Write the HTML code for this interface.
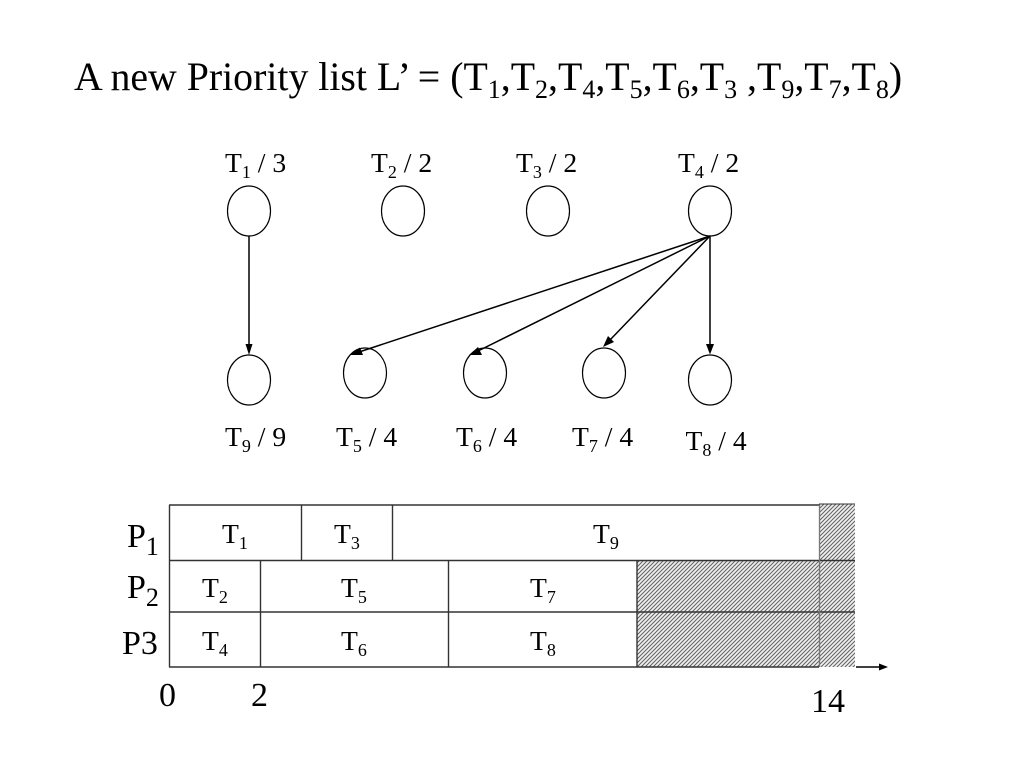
<!DOCTYPE html>
<html><head><meta charset="utf-8"><style>
html,body{margin:0;padding:0;background:#fff;width:1024px;height:768px;overflow:hidden}
svg{display:block}
text{font-family:"Liberation Serif",serif;fill:#000}
.n{font-size:27.6px}.s{font-size:18px}
.c{fill:#fff;stroke:#000;stroke-width:1.2}
.l{stroke:#000;stroke-width:1.5;fill:none}
.g{stroke:#333;stroke-width:1.4;fill:none}
.t{font-size:39.8px}.u{font-size:26px}
.b{font-size:34px}
</style></head><body>
<svg width="1024" height="768" viewBox="0 0 1024 768" xmlns="http://www.w3.org/2000/svg">
<defs>
<pattern id="h" width="4" height="4" patternUnits="userSpaceOnUse">
<rect width="4" height="4" fill="#f0f0f0"/>
<path d="M-1 1L1 -1M0 4L4 0M3 5L5 3" stroke="#606060" stroke-width="1"/>
</pattern>
</defs>

<text x="74" y="90" class="t">A new Priority list L’ = (T<tspan dy="8" class="u">1</tspan><tspan dy="-8">,T</tspan><tspan dy="8" class="u">2</tspan><tspan dy="-8">,T</tspan><tspan dy="8" class="u">4</tspan><tspan dy="-8">,T</tspan><tspan dy="8" class="u">5</tspan><tspan dy="-8">,T</tspan><tspan dy="8" class="u">6</tspan><tspan dy="-8">,T</tspan><tspan dy="8" class="u">3</tspan><tspan dy="-8"> ,T</tspan><tspan dy="8" class="u">9</tspan><tspan dy="-8">,T</tspan><tspan dy="8" class="u">7</tspan><tspan dy="-8">,T</tspan><tspan dy="8" class="u">8</tspan><tspan dy="-8">)</tspan></text>

<text x="225" y="172" class="n">T<tspan dy="6" class="s">1</tspan><tspan dy="-6"> / 3</tspan></text>
<text x="371" y="172" class="n">T<tspan dy="6" class="s">2</tspan><tspan dy="-6"> / 2</tspan></text>
<text x="516" y="172" class="n">T<tspan dy="6" class="s">3</tspan><tspan dy="-6"> / 2</tspan></text>
<text x="678" y="172" class="n">T<tspan dy="6" class="s">4</tspan><tspan dy="-6"> / 2</tspan></text>
<text x="225" y="446" class="n">T<tspan dy="6" class="s">9</tspan><tspan dy="-6"> / 9</tspan></text>
<text x="336" y="446" class="n">T<tspan dy="6" class="s">5</tspan><tspan dy="-6"> / 4</tspan></text>
<text x="456" y="446" class="n">T<tspan dy="6" class="s">6</tspan><tspan dy="-6"> / 4</tspan></text>
<text x="572" y="446" class="n">T<tspan dy="6" class="s">7</tspan><tspan dy="-6"> / 4</tspan></text>
<text x="685.500" y="450" class="n">T<tspan dy="6" class="s">8</tspan><tspan dy="-6"> / 4</tspan></text>

<ellipse class="c" cx="249" cy="211" rx="21.5" ry="25"/>
<ellipse class="c" cx="403" cy="211" rx="21.5" ry="25"/>
<ellipse class="c" cx="548" cy="211" rx="21.5" ry="25"/>
<ellipse class="c" cx="710" cy="211" rx="21.5" ry="25"/>
<ellipse class="c" cx="249" cy="380" rx="21.5" ry="25"/>
<ellipse class="c" cx="365" cy="373" rx="21.5" ry="25"/>
<ellipse class="c" cx="485" cy="373" rx="21.5" ry="25"/>
<ellipse class="c" cx="604" cy="373" rx="21.5" ry="25"/>
<ellipse class="c" cx="710" cy="380" rx="21.5" ry="25"/>

<line class="l" x1="249" y1="236" x2="249" y2="346"/>
<polygon points="249,355 245.500,344 252.500,344"/>
<line class="l" x1="710" y1="236" x2="356" y2="353"/>
<polygon points="350,355 360,347.500 363,355"/>
<line class="l" x1="710" y1="236" x2="476" y2="352"/>
<polygon points="469,355 478,347 482,355"/>
<line class="l" x1="710" y1="236" x2="609" y2="341"/>
<polygon points="603,347 608,336 614,342"/>
<line class="l" x1="710" y1="236" x2="710" y2="346"/>
<polygon points="710,354.500 706,344 714,344"/>

<rect x="637" y="560" width="218" height="107" fill="url(#h)"/>
<rect x="819" y="504" width="36" height="56" fill="url(#h)"/>

<path class="g" d="M169 505H819M169 560.500H855M169 612H855M169 667H819"/>
<path class="g" d="M169.500 505V667M301.500 505V560M392.500 505V560M260.500 560V667M448.500 560V667M637 560V667"/>
<path d="M819.500 505V667" stroke="#777" stroke-width="1.3"/>
<path d="M819 504H855" stroke="#333" stroke-width="1"/>

<line class="l" x1="856" y1="667" x2="881" y2="667"/>
<polygon points="888,667 879,663.500 879,670.500"/>

<text x="127" y="547" class="b">P<tspan dy="8" class="u">1</tspan></text>
<text x="127" y="598" class="b">P<tspan dy="8" class="u">2</tspan></text>
<text x="122" y="654" class="b">P3</text>
<text x="159" y="706" class="b">0</text>
<text x="251" y="706" class="b">2</text>
<text x="811" y="712" class="b">14</text>

<text x="222" y="543" class="n">T<tspan dy="6" class="s">1</tspan></text>
<text x="334" y="543" class="n">T<tspan dy="6" class="s">3</tspan></text>
<text x="593" y="543" class="n">T<tspan dy="6" class="s">9</tspan></text>
<text x="202" y="597" class="n">T<tspan dy="6" class="s">2</tspan></text>
<text x="341" y="597" class="n">T<tspan dy="6" class="s">5</tspan></text>
<text x="530" y="597" class="n">T<tspan dy="6" class="s">7</tspan></text>
<text x="202" y="650" class="n">T<tspan dy="6" class="s">4</tspan></text>
<text x="341" y="650" class="n">T<tspan dy="6" class="s">6</tspan></text>
<text x="530" y="650" class="n">T<tspan dy="6" class="s">8</tspan></text>
</svg>
</body></html>
